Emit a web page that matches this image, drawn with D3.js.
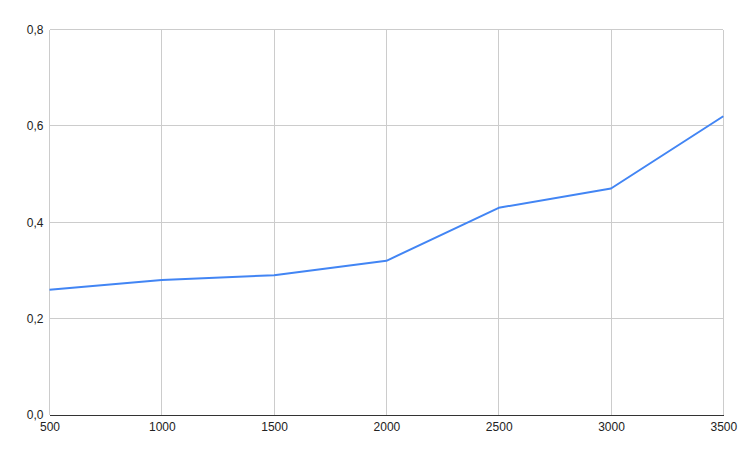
<!DOCTYPE html>
<html>
<head>
<meta charset="utf-8">
<script src="https://cdn.jsdelivr.net/npm/d3@7"></script>
<style>
    body { margin: 0; background: #fff; }
    text { font-family: "Liberation Sans", Arial, sans-serif; fill: #222; }
</style>
</head>
<body>
<div id="chart"></div>
<script>
// line chart, comma decimal labels on y

const xValues = [500, 1000, 1500, 2000, 2500, 3000, 3500];
const yValues = [0.26, 0.28, 0.29, 0.32, 0.43, 0.47, 0.62];
const yTicks = [0, 0.2, 0.4, 0.6, 0.8];

const W = 746, H = 458;
const margin = { top: 29.5, right: 22.7, bottom: 43, left: 49.5 };
const width = W - margin.left - margin.right,
    height = H - margin.top - margin.bottom;

const locale = d3.formatLocale({ decimal: ",", thousands: "", grouping: [3], currency: ["", ""] });
const yFmt = locale.format(".1f");

let svg = d3.select("#chart").
append("svg").
attr("width", W).
attr("height", H).
append("g").
attr("transform", "translate(" + margin.left + "," + margin.top + ")");

let xScale = d3.scaleLinear().
domain([500, 3500]).
range([0, width]);

let yScale = d3.scaleLinear().
domain([0, 0.8]).
range([height, 0]);

// grid
svg.append("g").
selectAll("line").
data(xValues).
enter().
append("line").
attr("x1", d => xScale(d)).
attr("x2", d => xScale(d)).
attr("y1", 0).
attr("y2", height).
attr("stroke", "#cccccc").
attr("stroke-width", 1).
attr("shape-rendering", "crispEdges");

svg.append("g").
selectAll("line").
data(yTicks.slice(1)).
enter().
append("line").
attr("x1", 0).
attr("x2", width).
attr("y1", d => yScale(d)).
attr("y2", d => yScale(d)).
attr("stroke", "#cccccc").
attr("stroke-width", 1).
attr("shape-rendering", "crispEdges");

// axes
let xAxis = svg.append("g").
attr("transform", "translate(0," + height + ")").
call(d3.axisBottom(xScale).tickValues(xValues).tickFormat(d => d.toString()).tickSize(0).tickPadding(7));
xAxis.select(".domain").attr("stroke", "#333").attr("stroke-width", 1).attr("shape-rendering", "crispEdges");
xAxis.selectAll("text").attr("font-size", 12).style("fill", "#222");

let yAxis = svg.append("g").
call(d3.axisLeft(yScale).tickValues(yTicks).tickFormat(yFmt).tickSize(0).tickPadding(6));
yAxis.select(".domain").remove();
yAxis.selectAll("text").attr("font-size", 12).style("fill", "#222");

// series
let line = d3.line().
x((d, i) => xScale(xValues[i])).
y(d => yScale(d));

svg.append("path").
datum(yValues).
attr("d", line).
attr("fill", "none").
attr("stroke", "#4285f4").
attr("stroke-width", 2).
attr("stroke-linejoin", "round");
</script>
</body>
</html>
